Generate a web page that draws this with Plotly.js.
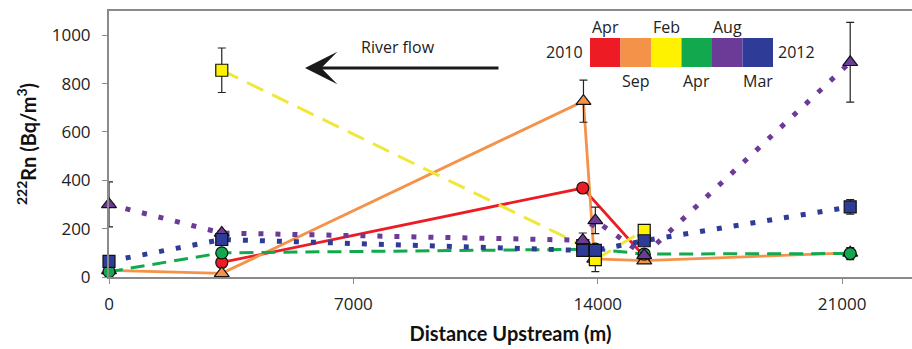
<!DOCTYPE html>
<html>
<head>
<meta charset="utf-8">
<script src="https://cdn.plot.ly/plotly-3.0.1.min.js"></script>
<style>
html, body { margin: 0; padding: 0; background: #ffffff; }
#chart { width: 912px; height: 349px; }
</style>
</head>
<body>
<div id="chart"></div>
<script>
// ---------------- data ----------------
const surveyNames = ['Apr 2010', 'Sep 2010', 'Feb 2011', 'Apr 2011', 'Aug 2011', 'Mar 2012'];

const apr2010X   = [3230, 13570, 15330];
const apr2010Y   = [60, 368, 85];
const apr2010Err = [8, 12, 8];

const sep2010X   = [0, 3230, 13590, 13900, 15330, 21230];
const sep2010Y   = [27, 15, 727, 75, 68, 100];
const sep2010Err = [5, 5, 87, 10, 10, 10];

const feb2011X   = [3230, 13570, 13930, 15330];
const feb2011Y   = [855, 130, 72, 193];
const feb2011Err = [92, 15, 50, 15];

const apr2011X   = [0, 3230, 13930, 15330, 21230];
const apr2011Y   = [22, 100, 115, 95, 97];
const apr2011Err = [8, 8, 10, 8, 25];

const aug2011X   = [0, 3230, 13570, 13930, 15330, 21230];
const aug2011Y   = [300, 182, 152, 234, 90, 888];
const aug2011Err = [93, 10, 30, 55, 12, 165];

const mar2012X   = [0, 3230, 13570, 13930, 15330, 21230];
const mar2012Y   = [65, 155, 110, 110, 150, 290];
const mar2012Err = [10, 12, 25, 12, 10, 30];

const xTickVals = [0, 7000, 14000, 21000];
const xTickText = ['0', '7000', '14000', '21000'];
const yTickVals = [0, 200, 400, 600, 800, 1000];
const yTickText = ['0', '200', '400', '600', '800', '1000'];

const legendLabels = ['Apr', 'Sep', 'Feb', 'Apr', 'Aug', 'Mar'];
const legendStart = '2010';
const legendEnd = '2012';
const flowLabel = 'River flow';

// ---------------- styles ----------------
const colors = ['#ED1C24', '#F5924A', '#FFF200', '#12A84E', '#6C3A97', '#2E3C98'];
const lineColors = ['#ED1C24', '#F5924A', '#EFE83A', '#12A84E', '#6C3A97', '#2E3C98'];
const symbols = ['circle', 'triangle-up', 'square', 'circle', 'triangle-up', 'square'];
const dashes = ['solid', 'solid', '18px,10px', '14px,8px', '5px,12px', '5px,12px'];
const lineWidths = [2.8, 2.8, 3, 3, 5, 5];
const markerSizes = [12, 13, 12, 12, 13, 12];

const series = [
  [apr2010X, apr2010Y, apr2010Err],
  [sep2010X, sep2010Y, sep2010Err],
  [feb2011X, feb2011Y, feb2011Err],
  [apr2011X, apr2011Y, apr2011Err],
  [aug2011X, aug2011Y, aug2011Err],
  [mar2012X, mar2012Y, mar2012Err]
];

const traces = [];
// lines first (below all markers)
series.forEach((s, i) => {
  traces.push({
    type: 'scatter', mode: 'lines', name: surveyNames[i],
    x: s[0], y: s[1], showlegend: false, hoverinfo: 'skip',
    line: { color: lineColors[i], width: lineWidths[i], dash: dashes[i] }
  });
});
// markers with error bars
series.forEach((s, i) => {
  traces.push({
    type: 'scatter', mode: 'markers', name: surveyNames[i],
    x: s[0], y: s[1], showlegend: false, cliponaxis: false,
    error_y: { type: 'data', array: s[2], visible: true, color: '#222', thickness: 1.2, width: 4 },
    marker: { color: colors[i], symbol: symbols[i], size: markerSizes[i],
              line: { color: '#111', width: 1.2 } }
  });
});

// ---------------- layout helpers (pixel -> paper) ----------------
const L = 109, T = 11, W = 803, H = 266;
const px = p => (p - L) / W;
const py = p => (T + H - p) / H;

const segW = 30.5, barX0 = 590, barTop = 38, barBot = 67;
const shapes = colors.map((c, i) => ({
  type: 'rect', xref: 'paper', yref: 'paper', layer: 'above',
  x0: px(barX0 + i * segW), x1: px(barX0 + (i + 1) * segW),
  y0: py(barBot), y1: py(barTop),
  fillcolor: c, line: { width: 0 }
}));

const txtFont = { family: 'Open Sans, sans-serif', size: 16, color: '#222' };
const annotations = [];
legendLabels.forEach((lab, i) => {
  const top = i % 2 === 0;
  annotations.push({
    xref: 'paper', yref: 'paper', showarrow: false, text: lab, font: txtFont,
    x: px(barX0 + (i + 0.5) * segW), y: py(top ? 27 : 81),
    xanchor: 'center', yanchor: 'middle'
  });
});
annotations.push({ xref: 'paper', yref: 'paper', showarrow: false, text: legendStart, font: txtFont,
  x: px(585), y: py(52), xanchor: 'right', yanchor: 'middle' });
annotations.push({ xref: 'paper', yref: 'paper', showarrow: false, text: legendEnd, font: txtFont,
  x: px(776), y: py(52), xanchor: 'left', yanchor: 'middle' });
annotations.push({ xref: 'paper', yref: 'paper', showarrow: false, text: flowLabel, font: txtFont,
  x: px(398), y: py(47), xanchor: 'center', yanchor: 'middle' });
annotations.push({ xref: 'paper', yref: 'paper', showarrow: true, text: '',
  x: px(305), y: py(68), ax: 195, ay: 0, axref: 'pixel', ayref: 'pixel',
  arrowhead: 3, arrowsize: 1.8, arrowwidth: 3, arrowcolor: '#1a1a1a' });

const layout = {
  width: 912, height: 349,
  margin: { l: L, r: 0, t: T, b: 349 - T - H, pad: 0 },
  paper_bgcolor: '#ffffff', plot_bgcolor: '#ffffff',
  showlegend: false,
  font: { family: 'Open Sans, sans-serif', size: 17, color: '#222' },
  xaxis: {
    range: [0, 23000], tickmode: 'array', tickvals: xTickVals, ticktext: xTickText,
    showgrid: false, zeroline: false, showline: true, mirror: true,
    linecolor: '#8a8a8a', linewidth: 2, ticks: 'outside', ticklen: 5, tickcolor: '#8a8a8a',
    tickfont: { family: 'Open Sans, sans-serif', size: 17, color: '#222' },
    ticklabelstandoff: 6,
    title: { text: '<b>Distance Upstream (m)</b>', standoff: 13,
             font: { family: 'Lato, sans-serif', size: 20, color: '#111' } }
  },
  yaxis: {
    range: [0, 1100], tickmode: 'array', tickvals: yTickVals, ticktext: yTickText,
    showgrid: false, zeroline: false, showline: true, mirror: false,
    linecolor: '#8a8a8a', linewidth: 2, ticks: 'outside', ticklen: 5, tickcolor: '#8a8a8a',
    tickfont: { family: 'Open Sans, sans-serif', size: 17, color: '#222' },
    ticklabelstandoff: 8,
    title: { text: '<b><sup>222</sup>Rn (Bq/m<sup>3</sup>)</b>', standoff: 10,
             font: { family: 'Lato, sans-serif', size: 20, color: '#111' } }
  },
  shapes: shapes,
  annotations: annotations
};

Plotly.newPlot('chart', traces, layout, { staticPlot: true, displayModeBar: false });
</script>
</body>
</html>
